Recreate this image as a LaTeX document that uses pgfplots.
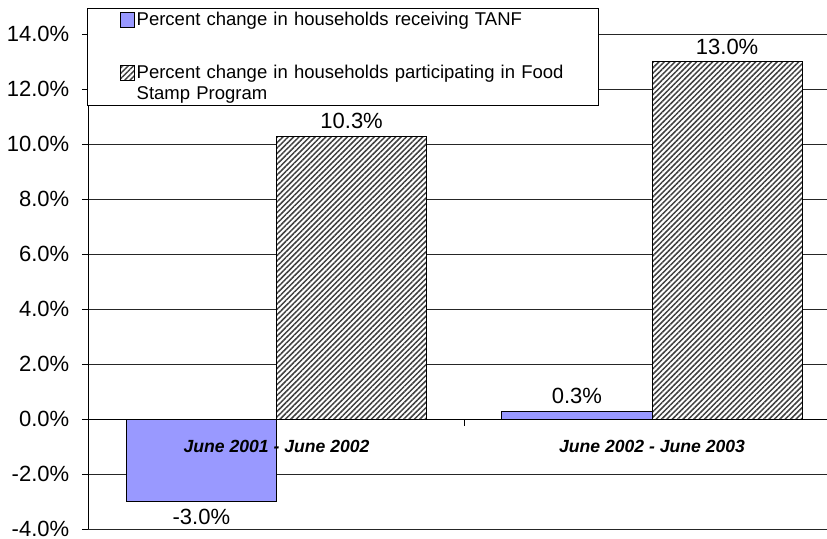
\documentclass[border=0pt]{standalone}
\usepackage{pgfplots}
\pgfplotsset{compat=1.18}
\usepackage{fontspec}
\setmainfont{Liberation Sans}
\usetikzlibrary{patterns.meta}
\definecolor{tanf}{HTML}{9999FF}
\pgfplotsset{
  layers/mylayers/.define layer set={axis background,axis grid,axis ticks,axis lines,pre main,main,axis tick labels,axis descriptions,axis foreground}{
    grid style={/pgfplots/on layer=axis grid},
    tick style={/pgfplots/on layer=axis ticks},
    axis line style={/pgfplots/on layer=axis lines},
    label style={/pgfplots/on layer=axis descriptions},
    legend style={/pgfplots/on layer=axis descriptions},
    title style={/pgfplots/on layer=axis descriptions},
    colorbar style={/pgfplots/on layer=axis descriptions},
    ticklabel style={/pgfplots/on layer=axis tick labels},
    axis background@ style={/pgfplots/on layer=axis background},
    3d box foreground style={/pgfplots/on layer=axis foreground},
  },
}
\begin{document}
\begin{tikzpicture}[x=1pt,y=1pt]
\begin{axis}[
  set layers=mylayers,
  at={(88pt,8.7pt)}, anchor=south west,
  scale only axis, width=739pt, height=495pt,
  xmin=-0.502, xmax=1.466, ymin=-4, ymax=14,
  ybar=0pt, bar width=0.4,
  axis x line=middle, axis y line=left,
  axis line style={-, black, line width=0.8pt},
  hide obscured x ticks=false, hide obscured y ticks=false,
  xtick={0,1}, xticklabels={June 2001 - June 2002, June 2002 - June 2003},
  xtick style={draw=none},
  xticklabel style={font=\fontsize{17.6}{20}\selectfont\bfseries\itshape, anchor=base, yshift=-27pt},
  ytick={-4,-2,...,14},
  ytick style={black, line width=0.8pt},
  tick align=outside, major tick length=6pt,
  /pgf/number format/assume math mode=true,
  yticklabel={\pgfmathprintnumber[fixed,fixed zerofill,precision=1]{\tick}\%},
  yticklabel style={font=\fontsize{22}{26}\selectfont, anchor=east, inner xsep=0pt, inner ysep=0pt, xshift=-12.6pt},
  ymajorgrids, grid style={black!85, line width=0.8pt},
  nodes near coords={\pgfmathprintnumber[fixed,fixed zerofill,precision=1]{\pgfplotspointmeta}\%},
  every node near coord/.append style={font=\fontsize{22}{26}\selectfont, text=black, inner ysep=7pt},
  legend cell align=left,
  legend style={at={(axis description cs:-0.00135,1.0531)}, anchor=north west,
    draw=black, line width=0.8pt, fill=white,
    inner xsep=0pt, inner ysep=3.3pt, row sep=15.7pt, column sep=1.5pt,
    font=\fontsize{18.5}{21}\selectfont,
    nodes={text width=462pt, inner xsep=0pt, inner ysep=0pt, align=left},
    cells={anchor=base west}},
  legend image code/.code={\pgfpathrectangle{\pgfpoint{-33pt}{-24pt}}{\pgfpoint{33pt}{24pt}}\pgfusepath{discard}\draw[#1, line width=0.8pt] (0pt,-2pt) rectangle (14.4pt,12.4pt);},
]
\addplot[fill=tanf, draw=black, line width=0.8pt] coordinates {(0,-3.0) (1,0.3)};
\addlegendentry{Percent change in households receiving TANF}
\addplot[draw=black, line width=0.8pt, preaction={fill=white},
  pattern={Lines[angle=45,distance=3.8pt,line width=1.5pt]}, pattern color=black!75]
  coordinates {(0,10.3) (1,13.0)};
\addlegendentry{Percent change in households participating in Food\\Stamp Program}
\draw[black, line width=0.8pt] (axis cs:0.5,0) -- ++(0pt,-6.4pt);
\end{axis}
\pgfresetboundingbox
\useasboundingbox (0,0) rectangle (827,538);
\end{tikzpicture}
\end{document}
